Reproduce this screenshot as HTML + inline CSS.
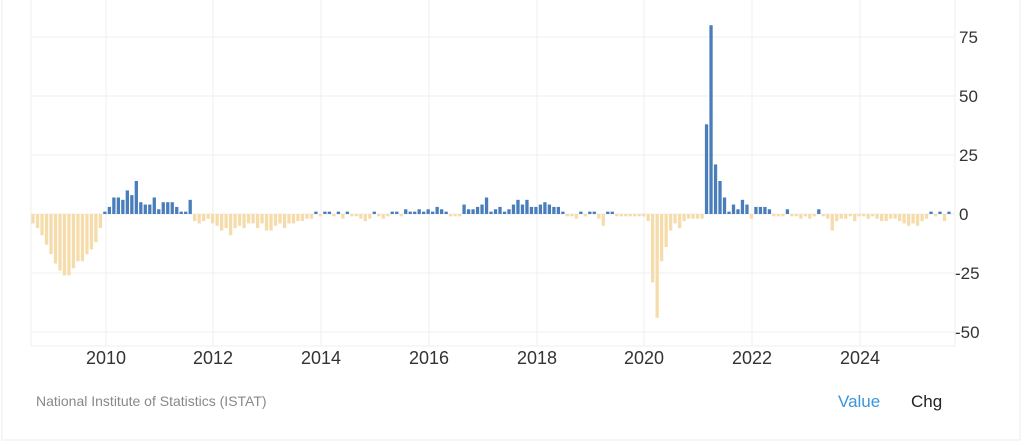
<!DOCTYPE html>
<html><head><meta charset="utf-8"><style>
html,body{margin:0;padding:0;background:#fff;width:1024px;height:445px;overflow:hidden;font-family:"Liberation Sans",Arial,sans-serif}
</style></head><body>
<svg width="1024" height="445" xmlns="http://www.w3.org/2000/svg" font-family="Liberation Sans, Arial, sans-serif">
<rect x="2" y="-2" width="1018" height="442" fill="none" stroke="#ececec"/>
<g stroke="#efefef" stroke-width="1">
<line x1="31" y1="37" x2="955" y2="37"/><line x1="31" y1="96" x2="955" y2="96"/>
<line x1="31" y1="155" x2="955" y2="155"/><line x1="31" y1="214" x2="955" y2="214"/>
<line x1="31" y1="273" x2="955" y2="273"/><line x1="31" y1="332" x2="955" y2="332"/>
<line x1="31" y1="346" x2="955" y2="346"/>
<line x1="31" y1="0" x2="31" y2="346"/><line x1="955" y1="0" x2="955" y2="346"/>
<line x1="106" y1="0" x2="106" y2="346"/><line x1="213" y1="0" x2="213" y2="346"/>
<line x1="321" y1="0" x2="321" y2="346"/><line x1="429" y1="0" x2="429" y2="346"/>
<line x1="537" y1="0" x2="537" y2="346"/><line x1="644" y1="0" x2="644" y2="346"/>
<line x1="752" y1="0" x2="752" y2="346"/><line x1="860" y1="0" x2="860" y2="346"/>
</g>
<g id="bars"></g>
<g font-size="17" fill="#333">
<text x="959" y="43">75</text><text x="959" y="102">50</text><text x="959" y="161">25</text>
<text x="959" y="220">0</text><text x="955" y="279">-25</text><text x="955" y="338">-50</text>
</g>
<g font-size="18" fill="#333" text-anchor="middle">
<text x="106" y="364">2010</text><text x="213" y="364">2012</text><text x="321" y="364">2014</text>
<text x="429" y="364">2016</text><text x="537" y="364">2018</text><text x="644" y="364">2020</text>
<text x="752" y="364">2022</text><text x="860" y="364">2024</text>
</g>
<text x="36" y="406" font-size="14" fill="#888">National Institute of Statistics (ISTAT)</text>
<text x="838" y="407" font-size="17" fill="#3a96dd">Value</text>
<text x="911" y="407" font-size="17" fill="#222">Chg</text>
</svg>
<script>
var d=[-4,-6,-9,-13,
-17,-21,-24,-26,-26,-23,-20,-20,-17,-15,-12,-6,
1,3,7,7,6,10,8,14,5,4,4,7,
2,5,5,5,3,1,1,6,-3,-4,-3,-2,
-4,-5,-7,-6,-9,-6,-5,-6,-4,-4,-6,-4,
-7,-7,-5,-4,-6,-4,-4,-3,-3,-2,-2,1,
-1,1,1,-1,1,-2,1,-1,-1,-2,-3,-2,
1,-1,-2,-1,1,1,-1,2,1,1,2,1,
2,1,3,2,1,-1,-1,-1,4,2,2,3,
4,7,1,2,3,1,2,4,6,4,6,3,
3,4,5,4,3,3,1,-1,-1,-2,1,-1,
1,1,-2,-5,1,1,-1,-1,-1,-1,-1,-1,
-1,-3,-29,-44,-20,-14,-7,-4,-6,-3,-2,-2,
-2,-2,38,80,21,14,7,1,4,2,6,4,
-2,3,3,3,2,-1,-1,-1,2,-1,-1,-2,
-1,-2,-1,2,-1,-2,-7,-3,-2,-2,-1,-3,
-1,-1,-2,-1,-2,-3,-3,-2,-2,-3,-4,-5,
-4,-5,-3,-2,1,-1,1,-3,1];
var g=document.getElementById('bars'),s='',k=2.36;
for(var i=0;i<d.length;i++){var v=d[i],x=33+i*4.49-1.6,h=Math.max(Math.abs(v)*k,1.5);
var y=v>=0?214-h:214;s+='<rect x="'+x.toFixed(2)+'" y="'+y.toFixed(2)+'" width="3.3" height="'+h.toFixed(2)+'" fill="'+(v>=0?'#4a7ebb':'#f5dcaa')+'"/>';}
g.innerHTML=s;
</script>
</body></html>
